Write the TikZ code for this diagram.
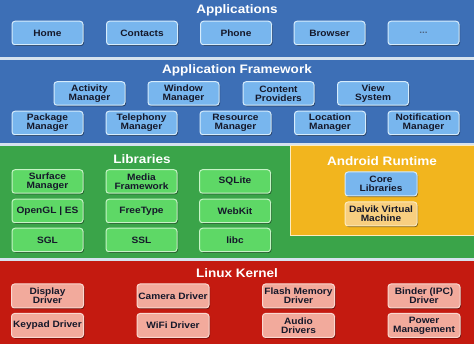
\documentclass[tikz,border=0pt]{standalone}
\usepackage{fontspec}
\setmainfont{Liberation Sans}[FakeStretch=1.1]
\usetikzlibrary{shadows}
\definecolor{bgc}{HTML}{D6E2EE}
\definecolor{blueband}{HTML}{3D6FB6}
\definecolor{greenband}{HTML}{3AA449}
\definecolor{yellowband}{HTML}{F2B51E}
\definecolor{redband}{HTML}{C41A10}
\definecolor{bluebox}{HTML}{78B6EE}
\definecolor{blueedge}{HTML}{D6ECFC}
\definecolor{greenbox}{HTML}{5ED866}
\definecolor{greenedge}{HTML}{C6F4C6}
\definecolor{redbox}{HTML}{F2AA9C}
\definecolor{rededge}{HTML}{FAD8D0}
\definecolor{dalvikbox}{HTML}{F8CF80}
\definecolor{dalvikedge}{HTML}{FCEBC0}
\definecolor{boxtext}{HTML}{15182A}
\definecolor{dotstext}{HTML}{4E6480}
\tikzset{
  x=1pt, y=-1pt,
  box/.style={rounded corners=3pt, line width=1pt, minimum width=71pt, minimum height=23.5pt,
    inner sep=0pt, align=center, text=boxtext,
    font=\fontsize{9.2}{9}\selectfont\bfseries,
    drop shadow={shadow xshift=1pt, shadow yshift=-1.2pt, fill=black, opacity=0.45}},
  bbox/.style={box, fill=bluebox, draw=blueedge},
  gbox/.style={box, fill=greenbox, draw=greenedge},
  rbox/.style={box, fill=redbox, draw=rededge},
  dbox/.style={box, fill=dalvikbox, draw=dalvikedge},
  title/.style={text=white, inner sep=0pt, font=\fontsize{12.3}{12}\selectfont\bfseries}
}
\begin{document}
\begin{tikzpicture}
\fill[bgc] (0,0) rectangle (474,344);
\useasboundingbox (0,0) rectangle (474,344);
% bands
\fill[blueband] (0,0) rectangle (474,57);
\fill[blueband] (0,60) rectangle (474,143);
\fill[greenband] (0,146) rectangle (474,258);
\fill[redband] (0,261) rectangle (474,344);
\fill[yellowband, draw=dalvikedge, line width=1pt] (290,146) rectangle (476,235.5);

% Applications
\node[title] (tapp) at (237,10) {Applications};
\node[bbox] (home) at (47.5,33) {Home};
\node[bbox] (contacts) at (142,33) {Contacts};
\node[bbox] (phone) at (236,33) {Phone};
\node[bbox] (browser) at (329.5,33) {Browser};
\node[bbox, text=dotstext] (more) at (423.5,33) {...};

% Application Framework
\node[title] (tfw) at (237,70) {Application Framework};
\node[bbox] (activity) at (89.5,93.5) {Activity\\Manager};
\node[bbox] (window) at (183.5,93.5) {Window\\Manager};
\node[bbox] (content) at (278.5,93.5) {Content\\Providers};
\node[bbox] (view) at (373,93.5) {View\\System};
\node[bbox] (package) at (47.5,123) {Package\\Manager};
\node[bbox] (telephony) at (141.5,123) {Telephony\\Manager};
\node[bbox] (resource) at (235.5,123) {Resource\\Manager};
\node[bbox] (location) at (330,123) {Location\\Manager};
\node[bbox] (notification) at (423.5,123) {Notification\\Manager};

% Libraries
\node[title] (tlib) at (142,159) {Libraries};
\node[gbox] (surface) at (47.5,181.5) {Surface\\Manager};
\node[gbox] (media) at (141.5,181.5) {Media\\Framework};
\node[gbox] (sqlite) at (235,181.5) {SQLite};
\node[gbox] (opengl) at (47.5,211) {OpenGL | ES};
\node[gbox] (freetype) at (141.5,211) {FreeType};
\node[gbox] (webkit) at (235,211) {WebKit};
\node[gbox] (sgl) at (47.5,240) {SGL};
\node[gbox] (ssl) at (141.5,240) {SSL};
\node[gbox] (libc) at (235,240) {libc};

% Android Runtime
\node[title] (trt) at (382,161) {Android Runtime};
\node[bbox, minimum width=72pt, minimum height=24pt] (core) at (381,184) {Core\\Libraries};
\node[dbox, minimum width=72pt, minimum height=24pt] (dalvik) at (381,214) {Dalvik Virtual\\Machine};

% Linux Kernel
\node[title] (tlk) at (237,273) {Linux Kernel};
\node[rbox, minimum width=72pt, minimum height=24pt] (display) at (47.5,296) {Display\\Driver};
\node[rbox, minimum width=72pt, minimum height=24pt] (camera) at (173,296) {Camera Driver};
\node[rbox, minimum width=72pt, minimum height=24pt] (flash) at (298.5,296) {Flash Memory\\Driver};
\node[rbox, minimum width=72pt, minimum height=24pt] (binder) at (424,296) {Binder (IPC)\\Driver};
\node[rbox, minimum width=72pt, minimum height=24pt] (keypad) at (47.5,325.5) {Keypad Driver};
\node[rbox, minimum width=72pt, minimum height=24pt] (wifi) at (173,325.5) {WiFi Driver};
\node[rbox, minimum width=72pt, minimum height=24pt] (audio) at (298.5,325.5) {Audio\\Drivers};
\node[rbox, minimum width=72pt, minimum height=24pt] (power) at (424,325.5) {Power\\Management};
\end{tikzpicture}
\end{document}
